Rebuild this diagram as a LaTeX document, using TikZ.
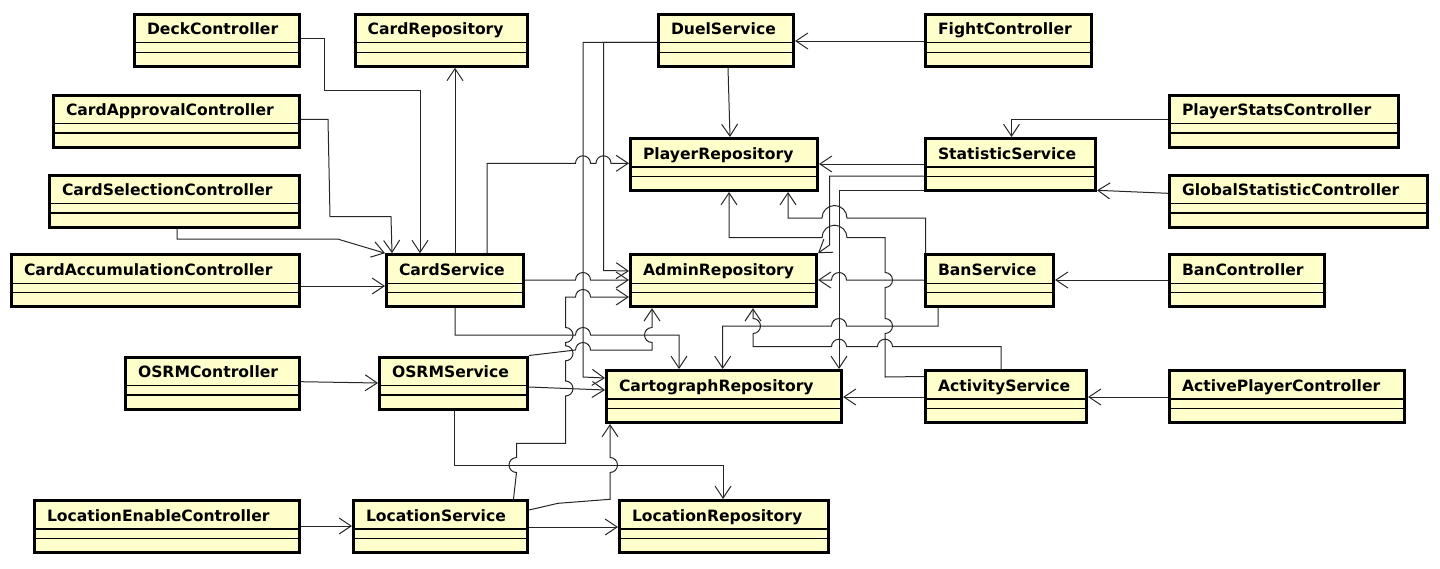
\documentclass[tikz,border=0pt]{standalone}
\usepackage{fontspec}
\usetikzlibrary{arrows.meta}
\newfontfamily\classfont{DejaVu Sans}
\definecolor{classyellow}{RGB}{255,255,204}

\begin{document}
\begin{tikzpicture}[x=1pt,y=-1pt,
    umlclass/.style={draw, line width=3pt, fill=classyellow, anchor=north west,
        inner xsep=12.5pt, inner ysep=0pt, text width=#1, align=left,
        text height=20.5pt, text depth=31.5pt,
        font=\classfont\bfseries\fontsize{15.6pt}{18pt}\selectfont,
        path picture={
            \draw[line width=1.1pt] ([yshift=-28.5pt]path picture bounding box.north west) -- ([yshift=-28.5pt]path picture bounding box.north east);
            \draw[line width=1.1pt] ([yshift=-38pt]path picture bounding box.north west) -- ([yshift=-38pt]path picture bounding box.north east);
        }},
    uses/.style={-{Straight Barb[length=12pt,width=16pt]}, line width=1pt, black!85}]
                    \useasboundingbox (0,0) rectangle (1440,568);
                    \node[umlclass=140pt] (deck) at (133,12.8) {DeckController};
                    \node[umlclass=147pt] (cardrepo) at (353.6,12.8) {CardRepository};
                    \node[umlclass=110pt] (duel) at (657,12.8) {DuelService};
                    \node[umlclass=141pt] (fight) at (924,12.8) {FightController};
                    \node[umlclass=221pt] (approval) at (52,93.5) {CardApprovalController};
                    \node[umlclass=204pt] (playerstats) at (1168,93.5) {PlayerStatsController};
                    \node[umlclass=162pt] (playerrepo) at (629,137) {PlayerRepository};
                    \node[umlclass=145pt] (statistic) at (924,137) {StatisticService};
                    \node[umlclass=225pt] (selection) at (48,173.5) {CardSelectionController};
                    \node[umlclass=233pt] (global) at (1168,173.5) {GlobalStatisticController};
                    \node[umlclass=263pt] (accum) at (10,253.2) {CardAccumulationController};
                    \node[umlclass=112pt] (cardsvc) at (385,253.2) {CardService};
                    \node[umlclass=161pt] (admin) at (629,253.2) {AdminRepository};
                    \node[umlclass=103pt] (ban) at (924,253.2) {BanService};
                    \node[umlclass=130pt] (banctrl) at (1168,253.2) {BanController};
                    \node[umlclass=149pt] (osrmctrl) at (124,355.5) {OSRMController};
                    \node[umlclass=123pt] (osrmsvc) at (378,355.5) {OSRMService};
                    \node[umlclass=210pt] (carto) at (605,369) {CartographRepository};
                    \node[umlclass=136pt] (activity) at (924,369) {ActivityService};
                    \node[umlclass=210pt] (activectrl) at (1168,369) {ActivePlayerController};
                    \node[umlclass=240pt] (locenable) at (33,499) {LocationEnableController};
                    \node[umlclass=149pt] (locsvc) at (352,499) {LocationService};
                    \node[umlclass=184pt] (locrepo) at (618,499) {LocationRepository};
                    \draw[uses] (deck.east |- 0,38) -- (324,38) -- (324,90) -- (420,90) -- (cardsvc.north -| 420,0);
                    \draw[uses] (approval.east |- 0,119.3) -- (328,119.3) -- (330,216.7) -- (391,216.7) -- (cardsvc.north -| 392,0);
                    \draw[uses] (selection.south -| 177,0) -- (177,239) -- (337.5,239) -- (cardsvc.north west);
                    \draw[uses] (accum.east |- 0,286) -- (cardsvc.west |- 0,286);
                    \draw[uses] (cardsvc.north -| 455,0) -- (cardrepo.south -| 455,0);
                    \draw[uses] (cardsvc.north -| 487,0) -- (487,163.3) -- (575.5,163.3) arc[start angle=180,end angle=0,radius=7.5pt] -- (596,163.3) arc[start angle=180,end angle=0,radius=7.5pt] -- (playerrepo.west |- 0,163.3);
                    \draw[uses] (cardsvc.east |- 0,280) -- (575.5,280) arc[start angle=180,end angle=0,radius=7.5pt] -- (admin.west |- 0,280);
                    \draw[uses] (cardsvc.south -| 455,0) -- (455,335) -- (575.5,335) arc[start angle=180,end angle=0,radius=7.5pt] -- (679,335) -- (carto.north -| 679,0);
                    \draw[uses] (duel.south -| 728,0) -- (playerrepo.north -| 730,0);
                    \draw[uses] (duel.west |- 0,42.3) -- (603.5,42.3) -- (603.5,270.5) -- (admin.west |- 0,271);
                    \draw[uses] (duel.west |- 0,42.3) -- (583,42.3) -- (583,377) -- (carto.west |- 0,378);
                    \draw[uses] (fight.west |- 0,41) -- (duel.east |- 0,41);
                    \draw[uses] (playerstats.west |- 0,119.3) -- (1011.5,119.3) -- (statistic.north -| 1011.5,0);
                    \draw[uses] (statistic.west |- 0,164) -- (playerrepo.east |- 0,164);
                    \draw[uses] (statistic.west |- 0,176) -- (829.5,176) -- (829.5,245) -- (admin.north east);
                    \draw[uses] (statistic.west |- 0,190.5) -- (839,190.5) -- (carto.north -| 839,0);
                    \draw[uses] (global.west |- 0,193.3) -- (statistic.east |- 0,190.3);
                    \draw[uses] (ban.north -| 925.5,0) -- (925.5,218) -- (847,218) arc[start angle=0,end angle=180,radius=12.5pt] -- (788,218) -- (playerrepo.south -| 788,0);
                    \draw[uses] (activity.west |- 0,376.5) -- (885,377) -- (885,333.5) arc[start angle=-90,end angle=90,radius=7.5pt] -- (885,287.5) arc[start angle=-90,end angle=90,radius=7.5pt] -- (885,237.7) -- (847,237.7) arc[start angle=0,end angle=180,radius=12.5pt] -- (729,237.7) -- (playerrepo.south -| 729,0);
                    \draw[uses] (ban.west |- 0,280) -- (846.5,280) arc[start angle=0,end angle=180,radius=7.5pt] -- (admin.east |- 0,280);
                    \draw[uses] (ban.south -| 938,0) -- (938,326) -- (846.5,326) arc[start angle=0,end angle=180,radius=7.5pt] -- (722.7,326) -- (carto.north -| 722.7,0);
                    \draw[uses] (activity.north -| 1001,0) -- (1001,346.7) -- (892.5,346.7) arc[start angle=0,end angle=180,radius=7.5pt] -- (846.5,346.7) arc[start angle=0,end angle=180,radius=7.5pt] -- (753,346.7) -- (753,333.5) arc[start angle=-90,end angle=90,radius=7.5pt] -- (admin.south -| 753,0);
                    \draw[uses] (activity.west |- 0,397) -- (carto.east |- 0,397);
                    \draw[uses] (activectrl.west |- 0,397) -- (activity.east |- 0,397);
                    \draw[uses] (banctrl.west |- 0,280) -- (ban.east |- 0,280);
                    \draw[uses] (osrmctrl.east |- 0,381.7) -- (osrmsvc.west |- 0,383);
                    \draw[uses] (osrmsvc.north east) -- (575.5,350) arc[start angle=180,end angle=0,radius=7.5pt] -- (652,350) -- (652,342.5) arc[start angle=-90,end angle=-270,radius=7.5pt] -- (admin.south -| 652,0);
                    \draw[uses] (osrmsvc.east |- 0,387) -- (carto.west |- 0,390);
                    \draw[uses] (osrmsvc.south -| 454,0) -- (454,465) -- (723,465) -- (locrepo.north -| 723,0);
                    \draw[uses] (locsvc.north -| 513.5,0) -- (516.5,472.5) arc[start angle=-90,end angle=-270,radius=7.5pt] -- (516.5,443.3) -- (565.5,443.3) -- (565.5,396) arc[start angle=-90,end angle=90,radius=7.5pt] -- (565.5,360.8) arc[start angle=-90,end angle=90,radius=7.5pt] -- (565.5,342.5) arc[start angle=-90,end angle=90,radius=7.5pt] -- (565.5,297) -- (575.5,297) arc[start angle=180,end angle=0,radius=7.5pt] -- (admin.west |- 0,297);
                    \draw[uses] (locsvc.east |- 0,510) -- (558,503.3) -- (610,499.3) -- (610,472.5) arc[start angle=-90,end angle=90,radius=7.5pt] -- (carto.south -| 610,0);
                    \draw[uses] (locsvc.east |- 0,527) -- (locrepo.west |- 0,527);
                    \draw[uses] (locenable.east |- 0,526) -- (locsvc.west |- 0,526);
                \end{tikzpicture}
\end{document}
